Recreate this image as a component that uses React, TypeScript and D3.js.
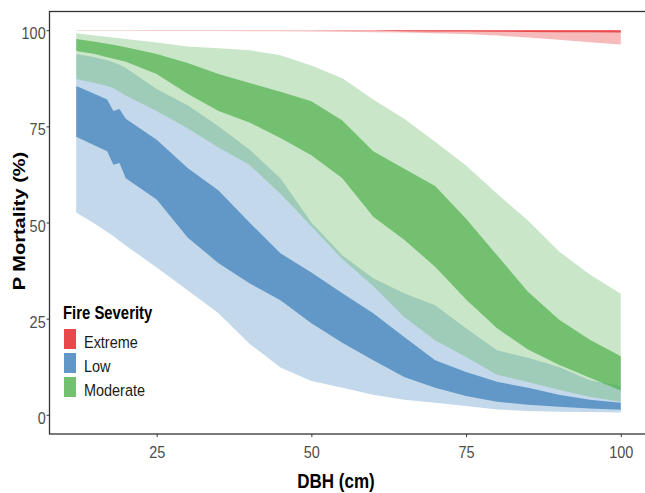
import React, { useEffect, useRef } from 'react'
import * as d3 from 'd3'

const dbh = [12, 15, 17, 18, 19, 20, 25, 30, 35, 40, 45, 50, 55, 60, 65, 70, 75, 80, 85, 90, 95, 100]

// Extreme severity (P mortality %)
const extremeOuterLo = [99.85, 99.85, 99.85, 99.85, 99.85, 99.85, 99.82, 99.8, 99.78, 99.75, 99.72, 99.7, 99.6, 99.5, 99.4, 99.2, 99.0, 98.6, 98.1, 97.5, 96.9, 96.3]
const extremeInnerLo = [99.97, 99.97, 99.97, 99.97, 99.97, 99.97, 99.97, 99.97, 99.97, 99.97, 99.97, 99.97, 99.95, 99.9, 99.75, 99.7, 99.65, 99.6, 99.55, 99.5, 99.45, 99.4]
const extremeHi = [100, 100, 100, 100, 100, 100, 100, 100, 100, 100, 100, 100, 100, 100, 100, 100, 100, 100, 100, 100, 100, 100]

// Low severity
const lowOuterLo = [52.6, 49.7, 47.5, 46.5, 45.2, 44.0, 38.3, 32.4, 26.4, 18.5, 12.3, 8.8, 7.0, 5.2, 3.9, 3.1, 2.3, 1.4, 1.0, 0.8, 0.7, 0.6]
const lowInnerLo = [72.3, 70.0, 68.5, 65.0, 65.5, 61.5, 56.0, 46.1, 39.4, 34.2, 29.8, 23.8, 18.7, 14.2, 9.8, 7.0, 4.9, 3.4, 2.6, 2.1, 1.6, 1.3]
const lowInnerHi = [85.5, 83.4, 82.0, 79.0, 79.5, 77.0, 71.5, 64.2, 58.3, 50.0, 42.0, 37.0, 31.6, 26.4, 20.2, 14.2, 11.1, 8.6, 7.0, 5.2, 3.9, 3.1]
const lowOuterHi = [93.8, 93.0, 92.2, 91.7, 91.0, 90.2, 84.7, 80.5, 75.0, 69.0, 61.5, 50.0, 41.5, 35.5, 31.6, 28.5, 22.5, 16.8, 14.8, 12.4, 9.0, 7.5]

// Moderate severity
const modOuterLo = [87.3, 86.3, 85.5, 85.0, 84.0, 83.0, 79.0, 74.5, 69.5, 65.0, 57.5, 49.0, 40.5, 33.5, 25.4, 19.4, 15.0, 10.4, 8.5, 6.5, 4.7, 3.4]
const modInnerLo = [94.6, 93.8, 93.0, 92.6, 92.2, 91.8, 88.6, 83.5, 79.0, 76.0, 72.0, 67.5, 61.5, 51.5, 45.5, 38.5, 30.0, 22.5, 17.0, 13.0, 9.6, 6.3]
const modInnerHi = [97.7, 97.0, 96.5, 96.2, 95.9, 95.6, 93.8, 91.5, 88.6, 86.3, 84.0, 81.5, 76.5, 68.5, 64.0, 59.5, 51.0, 41.5, 32.0, 24.8, 19.5, 15.2]
const modOuterHi = [99.2, 98.6, 98.3, 98.1, 97.9, 97.7, 96.8, 95.8, 95.3, 94.8, 93.5, 90.8, 87.5, 82.0, 77.0, 71.0, 64.8, 57.5, 50.5, 42.5, 36.5, 31.5]

const severities = ['Extreme', 'Low', 'Moderate']
const colors = ['#E41A1C', '#377EB8', '#4DAF4A']
const yTicks = [0, 25, 50, 75, 100]
const xTicks = [25, 50, 75, 100]

const bands = [
    { outer: [extremeOuterLo, extremeHi], inner: [extremeInnerLo, extremeHi] },
    { outer: [lowOuterLo, lowOuterHi], inner: [lowInnerLo, lowInnerHi] },
    { outer: [modOuterLo, modOuterHi], inner: [modInnerLo, modInnerHi] },
]

const W = 645, H = 493
const SQ = 'scale(0.85,1)' // the figure's text is slightly condensed
const FONT = '"Liberation Sans", Arial, sans-serif'

const App = () => {
    const ref = useRef(null)

    useEffect(() => {
        const svg = d3.select(ref.current)
        svg.selectAll('*').remove()

        const x = d3.scaleLinear().domain([7.6, 104.4]).range([49, 648])
        const y = d3.scaleLinear().domain([-5, 105]).range([434, 11])

        const idx = d3.range(dbh.length)
        const area = (lo, hi) => d3.area()
            .x(i => x(dbh[i]))
            .y0(i => y(lo[i]))
            .y1(i => y(hi[i]))(idx)

        // ribbons: outer (light) then inner (dark) for each severity
        bands.forEach((b, k) => {
            svg.append('path')
                .attr('d', area(b.outer[0], b.outer[1]))
                .attr('fill', colors[k])
                .attr('fill-opacity', 0.3)
            svg.append('path')
                .attr('d', area(b.inner[0], b.inner[1]))
                .attr('fill', colors[k])
                .attr('fill-opacity', 0.7)
        })

        // panel outline (top + left + bottom visible)
        svg.append('rect')
            .attr('x', 49.5).attr('y', 11.5)
            .attr('width', 600).attr('height', 422.5)
            .attr('fill', 'none')
            .attr('stroke', '#333')
            .attr('stroke-width', 1.3)

        const yAxis = svg.append('g')
            .attr('transform', 'translate(49.5,0)')
            .call(d3.axisLeft(y).tickValues(yTicks).tickSize(3).tickPadding(1.5))
        yAxis.select('.domain').remove()
        yAxis.selectAll('line').attr('stroke', '#333')
        yAxis.selectAll('text')
            .attr('font-family', FONT)
            .attr('font-size', 17)
            .attr('fill', '#4D4D4D')
            .attr('dy', '0.5em')
            .attr('transform', SQ)

        const xAxis = svg.append('g')
            .attr('transform', 'translate(0,434)')
            .call(d3.axisBottom(x).tickValues(xTicks).tickSize(3).tickPadding(9.4))
        xAxis.select('.domain').remove()
        xAxis.selectAll('line').attr('stroke', '#333')
        xAxis.selectAll('text')
            .attr('font-family', FONT)
            .attr('font-size', 17)
            .attr('fill', '#4D4D4D')
            .attr('transform', SQ)

        // axis titles
        svg.append('text')
            .attr('transform', 'translate(25,221) ' + SQ + ' rotate(-90)')
            .attr('text-anchor', 'middle')
            .attr('font-family', FONT)
            .attr('font-size', 20)
            .attr('font-weight', 'bold')
            .attr('fill', '#000')
            .text('P Mortality (%)')

        svg.append('text')
            .attr('transform', 'translate(336,488) ' + SQ)
            .attr('text-anchor', 'middle')
            .attr('font-family', FONT)
            .attr('font-size', 20)
            .attr('font-weight', 'bold')
            .attr('fill', '#000')
            .text('DBH (cm)')

        // legend
        const legend = svg.append('g')
        legend.append('text')
            .attr('transform', 'translate(63,319) ' + SQ)
            .attr('font-family', FONT)
            .attr('font-size', 17.5)
            .attr('font-weight', 'bold')
            .attr('fill', '#000')
            .text('Fire Severity')

        severities.forEach((s, k) => {
            const ky = 329 + k * 24
            legend.append('rect')
                .attr('x', 64).attr('y', ky).attr('width', 12).attr('height', 20)
                .attr('fill', colors[k]).attr('fill-opacity', 0.3)
            legend.append('rect')
                .attr('x', 64).attr('y', ky).attr('width', 12).attr('height', 20)
                .attr('fill', colors[k]).attr('fill-opacity', 0.7)
            legend.append('text')
                .attr('transform', `translate(84,${ky + 18.5}) ` + SQ)
                .attr('font-family', FONT)
                .attr('font-size', 17)
                .attr('fill', '#1a1a1a')
                .text(s)
        })
    })

    return (
        <svg ref={ref} width={W} height={H}
            style={{ position: 'absolute', left: 0, top: 0, background: '#fff' }} />
    )
}

export default App
